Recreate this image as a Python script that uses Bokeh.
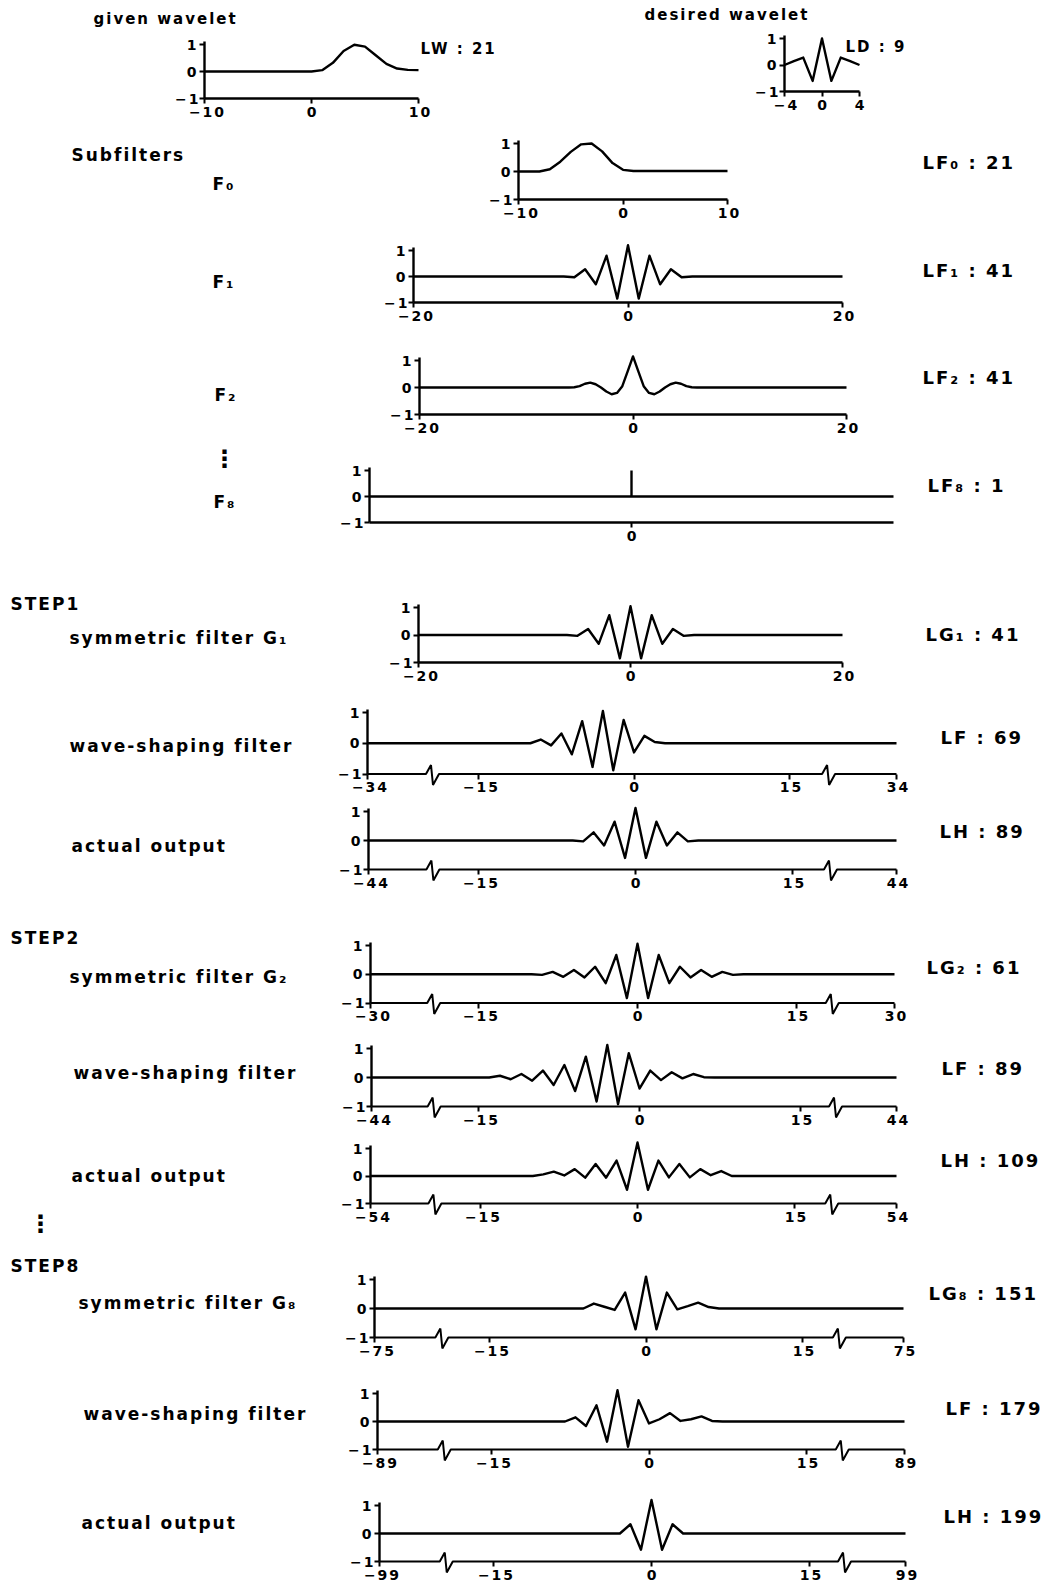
import numpy as np
from bokeh.plotting import figure
from bokeh.models import Range1d, LinearAxis, FixedTicker
from bokeh.embed import file_html
from bokeh.resources import INLINE
from bokeh.core.properties import value

# ---------------- data ----------------
given_n = list(range(-10, 11))
given_v = [0, 0, 0, 0, 0, 0, 0, 0, 0, 0, 0.0, 0.05, 0.32, 0.76, 0.99, 0.92, 0.60, 0.28, 0.11, 0.06, 0.05]
desired_n = list(range(-4, 5))
desired_v = [0.0, 0.15, 0.28, -0.60, 1.0, -0.60, 0.28, 0.15, 0.0]
f0_n = list(range(-10, 11))
f0_v = [0, 0, 0, 0.08, 0.35, 0.70, 0.97, 1.0, 0.72, 0.30, 0.06,
        0.02, 0.02, 0.02, 0.02, 0.02, 0.02, 0.02, 0.02, 0.02, 0.02]
f1_half, f1_start = 20, -5
f1_v = [-0.03, 0.28, -0.30, 0.80, -0.85, 1.20, -0.85, 0.80, -0.30, 0.28, -0.03]
f2_half = 20
f2_n = [-6, -5.5, -5, -4.5, -4, -3.5, -3, -2.5, -2, -1.5, -1, -0.5, 0,
        0.5, 1, 1.5, 2, 2.5, 3, 3.5, 4, 4.5, 5, 5.5, 6]
f2_v = [0.0, 0.01, 0.05, 0.14, 0.18, 0.12, 0.0, -0.15, -0.25, -0.20, 0.05, 0.60, 1.15,
        0.60, 0.05, -0.20, -0.25, -0.15, 0.0, 0.12, 0.18, 0.14, 0.05, 0.01, 0.0]
f8_half, f8_start = 25, 0
f8_v = [1.0]
g1_half, g1_start = 20, -5
g1_v = [-0.03, 0.22, -0.32, 0.72, -0.85, 1.05, -0.85, 0.72, -0.32, 0.22, -0.03]
lf69_half, lf69_start = 34, -10
lf69_v = [0.0, 0.12, -0.07, 0.32, -0.36, 0.72, -0.77, 1.05, -0.88, 0.76, -0.30, 0.24, 0.04, 0.0]
lh89_half, lh89_start = 44, -5
lh89_v = [-0.03, 0.28, -0.17, 0.65, -0.60, 1.12, -0.60, 0.65, -0.17, 0.28, -0.03]
g2_half, g2_start = 30, -9
g2_v = [-0.02, 0.08, -0.09, 0.15, -0.11, 0.26, -0.31, 0.67, -0.83, 1.06,
        -0.83, 0.67, -0.31, 0.26, -0.11, 0.15, -0.09, 0.08, -0.02]
lf89_half, lf89_start = 44, -13
lf89_v = [0.06, -0.06, 0.12, -0.11, 0.24, -0.26, 0.43, -0.47, 0.72, -0.83, 1.12,
          -0.92, 0.84, -0.38, 0.24, -0.09, 0.18, -0.03, 0.12, 0.01]
lh109_half, lh109_start = 54, -9
lh109_v = [0.06, 0.16, 0.02, 0.25, -0.06, 0.44, -0.06, 0.56, -0.50, 1.22,
           -0.50, 0.56, -0.05, 0.44, -0.05, 0.25, 0.03, 0.18, 0.0]
g8_half, g8_start = 75, -6
g8_v = [0.0, 0.17, 0.06, -0.05, 0.55, -0.72, 1.10, -0.72, 0.55, -0.03, 0.08, 0.20, 0.05, 0.0]
lf179_half, lf179_start = 89, -8
lf179_v = [0.0, 0.15, -0.16, 0.58, -0.72, 1.12, -0.90, 0.76, -0.07, 0.08, 0.30, 0.02, 0.08, 0.18, 0.02]
lh199_half, lh199_start = 99, -3
lh199_v = [0.0, 0.33, -0.58, 1.20, -0.58, 0.33, 0.0]

title_texts = ["given wavelet", "desired wavelet", "LW : 21", "LD : 9"]
left_texts = ["Subfilters", "F₀", "F₁", "F₂", "F₈",
              "STEP1", "symmetric filter G₁", "wave-shaping filter", "actual output",
              "STEP2", "symmetric filter G₂", "wave-shaping filter", "actual output",
              "STEP8", "symmetric filter G₈", "wave-shaping filter", "actual output"]
right_texts = ["LF₀ : 21", "LF₁ : 41", "LF₂ : 41", "LF₈ : 1", "LG₁ : 41",
               "LF : 69", "LH : 89", "LG₂ : 61", "LF : 89", "LH : 109", "LG₈ : 151",
               "LF : 179", "LH : 199"]

# ---------------- layout (page pixel positions) ----------------
W, H = 1056, 1583
PX0, PY0 = 0, 0
title_pos = [(93, 18), (644, 14), (420, 48), (845, 46)]
left_pos = [(71, 154), (212, 183), (212, 281), (214, 394), (213, 501),
            (10, 603), (69, 637), (69, 745), (71, 845),
            (10, 937), (69, 976), (73, 1072), (71, 1175),
            (10, 1265), (78, 1302), (83, 1413), (81, 1522)]
right_pos = [(922, 162), (922, 270), (922, 377), (927, 485), (925, 634),
             (940, 737), (939, 831), (926, 967), (941, 1068), (940, 1160), (928, 1293),
             (945, 1408), (943, 1516)]
dots_pos = [(224, 458), (40, 1223)]

FONT = "DejaVu Sans"
LW = 2.4

p = figure(width=W, height=H, x_range=Range1d(PX0, PX0 + W), y_range=Range1d(PY0 + H, PY0),
           output_backend="svg", toolbar_location=None, x_axis_type=None, y_axis_type=None,
           min_border=0, outline_line_color=None, background_fill_color="white",
           border_fill_color="white")
p.styles = {"letter-spacing": "2px"}

xr, yr = {}, {}


def style_axis(ax):
    ax.axis_line_width = LW
    ax.axis_line_color = "black"
    ax.major_tick_line_width = 2
    ax.major_tick_line_color = "black"
    ax.major_tick_out = 5
    ax.major_tick_in = 0
    ax.minor_tick_out = 0
    ax.minor_tick_in = 0
    ax.major_label_text_font = FONT
    ax.major_label_text_font_style = "bold"
    ax.major_label_text_font_size = "14px"
    ax.major_label_text_color = "black"
    ax.major_label_standoff = 3


def make_ranges(key, d0, p0, d1, p1, q1, qm1):
    u = (p1 - p0) / (d1 - d0)
    xs = d0 - (p0 - PX0) / u
    xr[key] = Range1d(xs, xs + W / u)
    v = (qm1 - q1) / 2.0
    yb = -1 - (PY0 + H - qm1) / v
    yr[key] = Range1d(yb, yb + H / v)
    return u, v


def y_axis(key, xloc):
    ax = LinearAxis(x_range_name=key, y_range_name=key, fixed_location=xloc,
                    bounds=(-1, 1.1), ticker=FixedTicker(ticks=[-1, 0, 1]),
                    major_label_overrides={-1: "−1", 0: "0", 1: "1"})
    style_axis(ax)
    p.add_layout(ax, "left")


def x_axis(key, d0, d1, ticks, labels, line=True):
    ax = LinearAxis(x_range_name=key, y_range_name=key, fixed_location=-1,
                    bounds=(d0, d1), ticker=FixedTicker(ticks=ticks),
                    major_label_overrides=dict(zip(ticks, labels)))
    style_axis(ax)
    if not line:
        ax.axis_line_color = None
    p.add_layout(ax, "below")


def full_series(half, start, vals):
    n = np.arange(-half, half + 1)
    v = np.zeros(len(n))
    i = start + half
    v[i:i + len(vals)] = vals
    return n, v


def lab(x):
    return str(int(x)).replace("-", "−")


def plain_panel(key, n, v, ticks, geom):
    d0, p0, d1, p1, q1, qm1 = geom
    make_ranges(key, d0, p0, d1, p1, q1, qm1)
    p.line(list(n), list(v), x_range_name=key, y_range_name=key, line_color="black",
           line_width=LW, line_join="round")
    y_axis(key, d0)
    x_axis(key, d0, d1, ticks, [lab(t) for t in ticks])


def broken_panel(key, half, start, vals, geom):
    pL, pm15, p15, pR, q1, qm1 = geom
    u, v = make_ranges(key, -15, pm15, 15, p15, q1, qm1)
    gL = (pm15 - pL) / u
    gR = (pR - p15) / u
    n, val = full_series(half, start, vals)
    x = n.astype(float)
    lm, rm = n < -15, n > 15
    x[lm] = -15 - (-15 - n[lm]) * gL / (half - 15)
    x[rm] = 15 + (n[rm] - 15) * gR / (half - 15)
    p.line(list(x), list(val), x_range_name=key, y_range_name=key, line_color="black",
           line_width=LW, line_join="round")
    xl, xrt = round(-15 - gL, 4), round(15 + gR, 4)
    y_axis(key, xl)
    ticks = [xl, -15, 0, 15, xrt]
    labels = ["−%d" % half, "−15", "0", "15", "%d" % half]
    x_axis(key, xl, xrt, ticks, labels, line=False)
    # axis line with its two break marks
    bl = -15 - 0.41 * gL
    br = 15 + 0.37 * gR
    a, b, c = 7 / u, 2 / u, 6 / u
    up, dn = 9 / v, 11 / v
    bx = [xl, bl - a, bl - b, bl, bl + c, br - a, br - b, br, br + c, xrt]
    by = [-1, -1, -1 + up, -1 - dn, -1, -1, -1 + up, -1 - dn, -1, -1]
    p.line(bx, by, x_range_name=key, y_range_name=key, line_color="black", line_width=2)


# top
plain_panel("given", given_n, given_v, [-10, 0, 10], (-10, 204, 10, 418, 44, 98))
plain_panel("desired", desired_n, desired_v, [-4, 0, 4], (-4, 784, 4, 859, 38, 91))
# subfilters
plain_panel("f0", f0_n, f0_v, [-10, 0, 10], (-10, 518, 10, 727, 143, 199))
n1, v1 = full_series(f1_half, f1_start, f1_v)
plain_panel("f1", n1, v1, [-20, 0, 20], (-20, 413, 20, 842, 250, 302))
plain_panel("f2", [-f2_half] + f2_n + [f2_half], [0] + f2_v + [0], [-20, 0, 20],
            (-20, 419, 20, 846, 360, 414))
# F8 : a single spike
n8, v8 = full_series(f8_half, f8_start, f8_v)
make_ranges("f8", -25, 369, 25, 893, 470, 522)
p.line([int(n8[0]), int(n8[-1])], [0, 0], x_range_name="f8", y_range_name="f8",
       line_color="black", line_width=LW)
p.segment(x0=list(n8), y0=[0] * len(n8), x1=list(n8), y1=list(v8), x_range_name="f8",
          y_range_name="f8", line_color="black", line_width=LW)
y_axis("f8", -25)
x_axis("f8", -25, 25, [0], ["0"])
# STEP1
ng1, vg1 = full_series(g1_half, g1_start, g1_v)
plain_panel("g1", ng1, vg1, [-20, 0, 20], (-20, 418, 20, 842, 607, 662))
broken_panel("lf69", lf69_half, lf69_start, lf69_v, (367, 478, 789, 896, 712, 773.5))
broken_panel("lh89", lh89_half, lh89_start, lh89_v, (368, 478, 792, 896, 811, 869))
# STEP2
broken_panel("g2", g2_half, g2_start, g2_v, (370, 478, 796, 894, 945, 1002.5))
broken_panel("lf89", lf89_half, lf89_start, lf89_v, (371, 478, 800, 896, 1048, 1106))
broken_panel("lh109", lh109_half, lh109_start, lh109_v, (370, 480, 794, 896, 1148, 1203))
# STEP8
broken_panel("g8", g8_half, g8_start, g8_v, (374, 489, 802, 903, 1279, 1337))
broken_panel("lf179", lf179_half, lf179_start, lf179_v, (377, 491, 806, 904, 1393, 1449))
broken_panel("lh199", lh199_half, lh199_start, lh199_v, (379, 493, 809, 905, 1505, 1561))

p.extra_x_ranges = xr
p.extra_y_ranges = yr

# texts
p.text(x=[q[0] for q in title_pos], y=[q[1] for q in title_pos], text=title_texts,
       text_font=value(FONT), text_font_style="bold", text_font_size="15px",
       text_baseline="middle", text_align="left", text_color="black")
p.text(x=[q[0] for q in left_pos], y=[q[1] for q in left_pos], text=left_texts,
       text_font=value(FONT), text_font_style="bold", text_font_size="17px",
       text_baseline="middle", text_align="left", text_color="black")
p.text(x=[q[0] for q in right_pos], y=[q[1] for q in right_pos], text=right_texts,
       text_font=value(FONT), text_font_style="bold", text_font_size="18px",
       text_baseline="middle", text_align="left", text_color="black")
p.text(x=[q[0] for q in dots_pos], y=[q[1] for q in dots_pos], text=["⋮", "⋮"],
       text_font=value(FONT), text_font_style="bold", text_font_size="24px",
       text_baseline="middle", text_align="center", text_color="black")

open("out.html", "w").write(file_html(p, INLINE))
